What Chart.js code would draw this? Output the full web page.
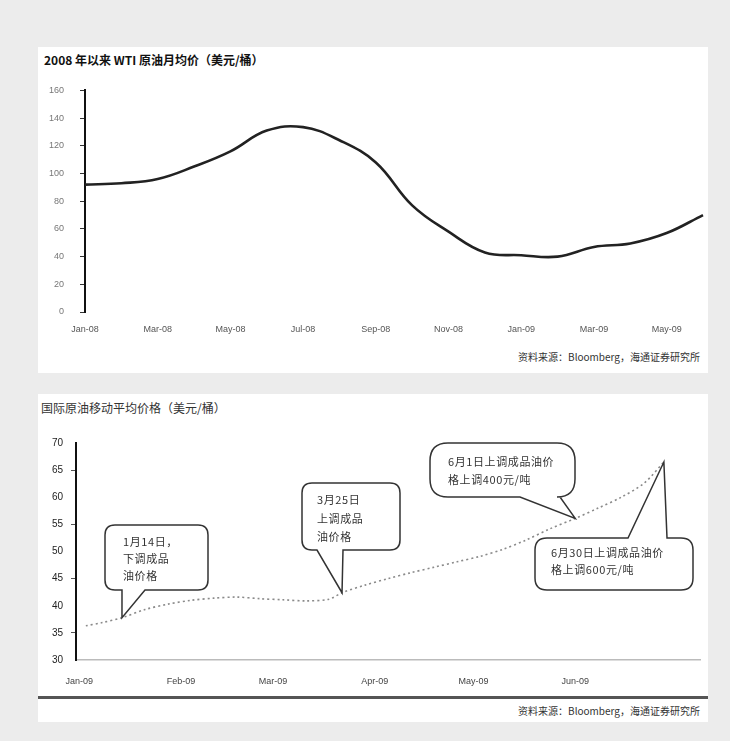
<!DOCTYPE html>
<html>
<head>
<meta charset="utf-8">
<script src="https://cdn.jsdelivr.net/npm/chart.js@4.4.1/dist/chart.umd.min.js"></script>
<style>
html,body{margin:0;padding:0;background:#ececec;}
body{width:730px;height:741px;position:relative;overflow:hidden;font-family:"Noto Sans CJK SC","Liberation Sans",sans-serif;}
.panel{position:absolute;left:38px;width:670px;background:#fff;}
#p1{top:47px;height:326px;}
#p2{top:394px;height:328px;}
.title{position:absolute;white-space:nowrap;font-size:12px;line-height:16px;}
#t1{left:6px;top:5px;font-weight:bold;color:#111;}
#t2{left:3px;top:6px;color:#333;}
.src{position:absolute;right:8px;font-size:10px;line-height:14px;color:#333;white-space:nowrap;}
#s1{top:303px;}
#s2{top:310px;}
canvas{position:absolute;left:0;}
#c1{top:22px;}
#c2{top:31px;}
#rule{position:absolute;left:0;top:302px;width:670px;height:3px;background:#555;}
</style>
</head>
<body>
<div class="panel" id="p1">
  <div class="title" id="t1">2008 年以来 WTI 原油月均价（美元/桶）</div>
  <canvas id="c1" width="670" height="273"></canvas>
  <div class="src" id="s1">资料来源：Bloomberg，海通证券研究所</div>
</div>
<div class="panel" id="p2">
  <div class="title" id="t2">国际原油移动平均价格（美元/桶）</div>
  <canvas id="c2" width="670" height="265"></canvas>
  <div id="rule"></div>
  <div class="src" id="s2">资料来源：Bloomberg，海通证券研究所</div>
</div>
<script>
// WTI monthly average price, Jan-08 .. Jun-09 (USD/bbl)
const wtiMonths = ['Jan-08','Feb-08','Mar-08','Apr-08','May-08','Jun-08','Jul-08','Aug-08','Sep-08','Oct-08','Nov-08','Dec-08','Jan-09','Feb-09','Mar-09','Apr-09','May-09','Jun-09'];
const wtiPrices = [92, 93, 96, 105, 116, 131, 133.5, 124, 108, 77, 58, 43, 41, 40, 47, 49.5, 57, 70];
const wtiTicks = [0, 20, 40, 60, 80, 100, 120, 140, 160];

// International crude moving average, 2009 (day of year -> USD/bbl)
const maDays   = [2, 7, 13, 20, 27, 34, 41, 48, 55, 62, 69, 76, 80, 87, 94, 101, 108, 115, 122, 129, 136, 143, 151, 158, 165, 172, 178];
const maPrices = [36.3, 36.9, 37.8, 39.3, 40.3, 41.0, 41.4, 41.6, 41.3, 41.1, 40.9, 41.2, 42.4, 43.8, 45.0, 46.1, 47.1, 48.1, 49.1, 50.4, 52.1, 54.1, 56.1, 58.0, 60.0, 62.6, 66.5];
const maTicks = [30, 35, 40, 45, 50, 55, 60, 65, 70];
const maMonthStarts = [0, 31, 59, 90, 120, 151];
const maMonthLabels = ['Jan-09', 'Feb-09', 'Mar-09', 'Apr-09', 'May-09', 'Jun-09'];

// Domestic fuel price adjustments marked on the moving average
const noteIndex = [2, 12, 22, 26];
const noteLines = [
  ['1月14日，', '下调成品', '油价格'],
  ['3月25日', '上调成品', '油价格'],
  ['6月1日上调成品油价', '格上调400元/吨'],
  ['6月30日上调成品油价', '格上调600元/吨']
];

const cjk = '"Noto Sans CJK SC", "Liberation Sans", sans-serif';
const sans = '"Liberation Sans", Arial, sans-serif';

// Speech-bubble callouts whose tails end on the series' own points
const calloutPlugin = {
  id: 'callouts',
  afterDatasetsDraw(chart, args, opts) {
    const ctx = chart.ctx;
    const pts = chart.getDatasetMeta(0).data;
    opts.items.forEach((c, k) => {
      const p = pts[noteIndex[k]];
      const tx = p.x, ty = p.y;
      const [x, y, w, h] = c.box, r = c.r, [b1, b2] = c.base;
      ctx.save();
      ctx.beginPath();
      ctx.moveTo(x + r, y);
      if (c.side === 'top') { ctx.lineTo(b1, y); ctx.lineTo(tx, ty); ctx.lineTo(b2, y); }
      ctx.lineTo(x + w - r, y);
      ctx.quadraticCurveTo(x + w, y, x + w, y + r);
      ctx.lineTo(x + w, y + h - r);
      ctx.quadraticCurveTo(x + w, y + h, x + w - r, y + h);
      if (c.side === 'bottom') { ctx.lineTo(b2, y + h); ctx.lineTo(tx, ty); ctx.lineTo(b1, y + h); }
      ctx.lineTo(x + r, y + h);
      ctx.quadraticCurveTo(x, y + h, x, y + h - r);
      ctx.lineTo(x, y + r);
      ctx.quadraticCurveTo(x, y, x + r, y);
      ctx.closePath();
      ctx.fillStyle = '#fff';
      ctx.fill();
      ctx.lineWidth = 1.5;
      ctx.strokeStyle = '#333';
      ctx.stroke();
      ctx.fillStyle = '#333';
      ctx.font = '11px ' + cjk;
      if ('letterSpacing' in ctx) ctx.letterSpacing = '0.6px';
      ctx.textBaseline = 'middle';
      ctx.textAlign = 'left';
      noteLines[k].forEach((t, i) => ctx.fillText(t, x + c.padX, y + c.top + i * c.lh));
      ctx.restore();
    });
  }
};

new Chart(document.getElementById('c1'), {
  type: 'line',
  data: {
    labels: wtiMonths,
    datasets: [{
      data: wtiPrices,
      borderColor: '#222',
      borderWidth: 2.6,
      pointRadius: 0,
      tension: 0.4,
      fill: false
    }]
  },
  options: {
    responsive: false,
    animation: false,
    layout: { padding: { left: 0, right: 5, top: 5, bottom: 0 } },
    plugins: { legend: { display: false }, tooltip: { enabled: false } },
    scales: {
      x: {
        type: 'category',
        offset: false,
        grid: { display: false },
        border: { display: false },
        afterFit: s => { s.height = 30; },
        ticks: {
          autoSkip: false, maxRotation: 0, padding: 4,
          color: '#555', font: { family: sans, size: 9 },
          callback: (v, i) => (i % 2 === 0 ? wtiMonths[i] : '')
        }
      },
      y: {
        min: 0, max: 160,
        afterFit: s => { s.width = 47; },
        afterBuildTicks: s => { s.ticks = wtiTicks.map(v => ({ value: v })); },
        border: { display: true, color: '#111', width: 2 },
        grid: { display: true, drawOnChartArea: false, drawTicks: true, tickLength: 5, tickColor: '#333' },
        ticks: { padding: 16, color: '#777', font: { family: sans, size: 9 } }
      }
    }
  }
});

new Chart(document.getElementById('c2'), {
  type: 'line',
  data: {
    datasets: [{
      data: maDays.map((d, i) => ({ x: d, y: maPrices[i] })),
      borderColor: '#8a8a8a',
      borderWidth: 1.6,
      borderDash: [2, 3],
      pointRadius: 0,
      tension: 0.3,
      fill: false
    }]
  },
  plugins: [calloutPlugin],
  options: {
    responsive: false,
    animation: false,
    layout: { padding: { left: 0, right: 8, top: 18, bottom: 0 } },
    plugins: {
      legend: { display: false },
      tooltip: { enabled: false },
      callouts: {
        items: [
          { box: [67, 100, 103, 65], r: 10, side: 'bottom', base: [84, 107], padX: 18, top: 17, lh: 17 },
          { box: [264, 58, 98, 67], r: 10, side: 'bottom', base: [279, 305], padX: 15, top: 17, lh: 18.5 },
          { box: [392, 18, 145, 54], r: 18, side: 'bottom', base: [482, 522], padX: 18, top: 19, lh: 18 },
          { box: [497, 113, 158, 52], r: 12, side: 'top', base: [590, 629], padX: 16, top: 15, lh: 17 }
        ]
      }
    },
    scales: {
      x: {
        type: 'linear',
        min: -1, max: 189,
        afterFit: s => { s.height = 30; },
        afterBuildTicks: s => { s.ticks = maMonthStarts.map(v => ({ value: v })); },
        border: { display: true, color: '#bbb', width: 1.5 },
        grid: { display: false },
        ticks: {
          padding: 8, maxRotation: 0,
          color: '#444', font: { family: sans, size: 9 },
          callback: v => maMonthLabels[maMonthStarts.indexOf(v)]
        }
      },
      y: {
        min: 30, max: 70,
        afterFit: s => { s.width = 38; },
        afterBuildTicks: s => { s.ticks = maTicks.map(v => ({ value: v })); },
        border: { display: true, color: '#111', width: 2 },
        grid: {
          display: true, drawOnChartArea: false, drawTicks: true, tickLength: 5,
          tickColor: c => (c.tick && c.tick.value % 10 === 5 ? '#555' : 'rgba(0,0,0,0)')
        },
        ticks: { padding: 8, color: '#222', font: { family: sans, size: 10 } }
      }
    }
  }
});
</script>
</body>
</html>
